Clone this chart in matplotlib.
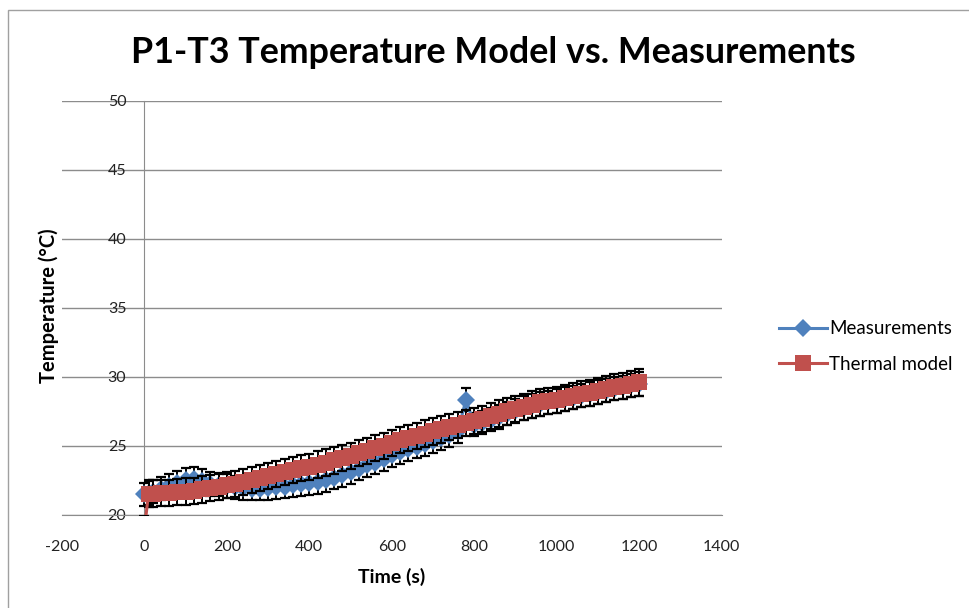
import matplotlib.pyplot as plt
from matplotlib.patches import Rectangle

# time axis (s)
time_s = [0, 10, 20, 40, 60, 80, 100, 120, 140, 160, 180,
          200, 220, 240, 260, 280, 300, 320, 340, 360, 380,
          400, 420, 440, 460, 480, 500, 520, 540, 560, 580,
          600, 620, 640, 660, 680, 700, 720, 740, 760, 780,
          800, 820, 840, 860, 880, 900, 920, 940, 960, 980,
          1000, 1020, 1040, 1060, 1080, 1100, 1120, 1140, 1160, 1180,
          1200]

measurements = [21.5, 21.6, 21.7, 21.9, 22.1, 22.35, 22.55, 22.6, 22.45, 22.25, 22.2,
                22.1, 22.0, 21.95, 21.9, 21.9, 21.95, 22.0, 22.05, 22.15, 22.25,
                22.3, 22.4, 22.5, 22.7, 22.9, 23.1, 23.35, 23.6, 23.8, 24.05,
                24.35, 24.55, 24.75, 24.95, 25.15, 25.35, 25.55, 25.8, 26.05, 28.35,
                26.55, 26.7, 26.9, 27.1, 27.35, 27.55, 27.75, 27.9, 28.05, 28.15,
                28.25, 28.4, 28.5, 28.65, 28.75, 28.9, 29.0, 29.15, 29.25, 29.4,
                29.5]

thermal_model = [19.0, 21.55, 21.55, 21.6, 21.6, 21.65, 21.7, 21.75, 21.85, 21.95, 22.05,
                 22.15, 22.25, 22.4, 22.55, 22.7, 22.85, 22.98, 23.1, 23.25, 23.38,
                 23.5, 23.65, 23.8, 23.95, 24.15, 24.3, 24.5, 24.65, 24.85, 25.0,
                 25.2, 25.45, 25.6, 25.75, 25.9, 26.05, 26.2, 26.35, 26.5, 26.65,
                 26.8, 26.95, 27.15, 27.35, 27.5, 27.7, 27.85, 28.0, 28.15, 28.25,
                 28.35, 28.5, 28.6, 28.75, 28.85, 29.0, 29.1, 29.25, 29.35, 29.5,
                 29.6]

meas_err = 0.85
model_err = 0.95

x_ticks = [-200, 0, 200, 400, 600, 800, 1000, 1200, 1400]
y_ticks = [20, 25, 30, 35, 40, 45, 50]

blue = '#4F81BD'
red = '#C0504D'
grid_gray = '#8C8C8C'

plt.rcParams['font.family'] = ['Lato', 'DejaVu Sans']
plt.rcParams['axes.unicode_minus'] = False

fig = plt.figure(figsize=(9.7, 6.08), dpi=100)
ax = fig.add_axes([0.0639, 0.153, 0.680, 0.681])

# chart area border (only left and top edges fall inside the picture)
fig.patches.append(Rectangle((8 / 970, -0.1), 1.2, 1.1 - 10 / 608, transform=fig.transFigure,
                             fill=False, edgecolor='#A0A0A0', linewidth=1))

ax.errorbar(time_s, measurements, yerr=meas_err, fmt='none', ecolor='black',
            elinewidth=1.4, capsize=3.5, capthick=1.6, zorder=2)
ax.plot(time_s, measurements, color=blue, linewidth=2.2, marker='D', markersize=9.5,
        markeredgewidth=0, label='Measurements', zorder=3)
ax.errorbar(time_s, thermal_model, yerr=model_err, fmt='none', ecolor='black',
            elinewidth=1.4, capsize=3.5, capthick=1.6, zorder=4)
ax.plot(time_s, thermal_model, color=red, linewidth=2.2, marker='s', markersize=12,
        markeredgewidth=0, label='Thermal model', zorder=5)

ax.set_xlim(-200, 1400)
ax.set_ylim(20, 50)
ax.set_xticks(x_ticks)
ax.set_yticks(y_ticks)

ax.grid(axis='y', color=grid_gray, linewidth=1)
ax.set_axisbelow(True)
for side in ['top', 'right']:
    ax.spines[side].set_visible(False)
ax.spines['left'].set_position(('data', 0))
ax.spines['left'].set_color(grid_gray)
ax.spines['bottom'].set_color(grid_gray)
ax.spines['left'].set_zorder(1)

ax.tick_params(axis='y', length=0, pad=13, labelsize=11.5, labelcolor='#222222')
ax.tick_params(axis='x', length=0, pad=18, labelsize=11.5, labelcolor='#222222')

ax.set_xlabel('Time (s)', fontsize=14, fontweight='bold', labelpad=10)
fig.text(0.05, 0.498, 'Temperature (°C)', rotation=90, fontsize=14.5, fontweight='bold',
         ha='center', va='center')

fig.text(0.509, 0.914, 'P1-T3 Temperature Model vs. Measurements', fontsize=25.8,
         fontweight='bold', ha='center', va='center')

ax.legend(loc='center left', bbox_to_anchor=(0.795, 0.43), bbox_transform=fig.transFigure,
          frameon=False, fontsize=13.5, handlelength=2.6, handletextpad=0.1,
          labelspacing=1.0, borderaxespad=0)

fig.savefig('out.png', dpi=100)
